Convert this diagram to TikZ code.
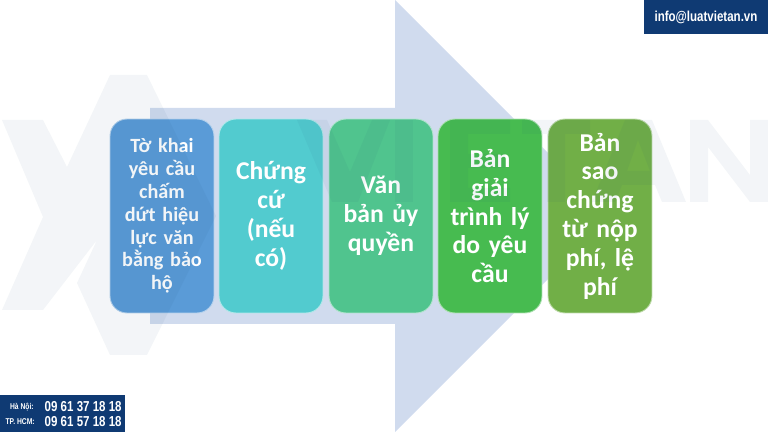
\documentclass[tikz,border=0pt]{standalone}
\usepackage{fontspec}
\setmainfont[WordSpace=0.8]{Carlito}
\newfontfamily\tagfont[FakeStretch=0.8]{Liberation Sans}
\usetikzlibrary{positioning}
\definecolor{navy}{HTML}{0F3A73}
\definecolor{shaft}{HTML}{D0DBEE}
\definecolor{wmark}{HTML}{1F4E79}
\definecolor{boxa}{HTML}{5A9BD7}
\definecolor{boxb}{HTML}{52CBCF}
\definecolor{boxc}{HTML}{50C48E}
\definecolor{boxd}{HTML}{47BB50}
\definecolor{boxe}{HTML}{71AF47}
\tikzset{
  stepbox/.style={rounded corners=0.34cm, draw=white!55!#1, line width=0.5, fill=#1,
    minimum width=2.08cm, minimum height=3.88cm, inner sep=0pt, text width=2.08cm,
    align=center, text=white, font=\bfseries\fontsize{14.6}{16.4}\selectfont},
  smallbox/.style={font=\bfseries\fontsize{11.5}{13}\selectfont},
  tagbox/.style={fill=navy, inner sep=0pt},
  tagtext/.style={text=white, inner sep=0pt, font=\tagfont\bfseries\fontsize{#1}{#1}\selectfont},
  logo/.style={fill=wmark, fill opacity=0.055}
}

\begin{document}
\begin{tikzpicture}[x=0.02cm,y=-0.02cm]
  \useasboundingbox (0, 0) rectangle (768, 432);

  % arrow
  \fill[shaft] (150, 108) -- (395, 108) -- (395, 0) -- (611, 216) -- (395, 432) -- (395, 324) -- (150, 324) -- cycle;

  % boxes
  \node[stepbox=boxa,smallbox] (khai) at (162, 216) {Tờ khai\\yêu cầu\\chấm\\dứt hiệu\\lực văn\\bằng bảo\\hộ};
  \node[stepbox=boxb] (chungcu) at (271, 216) {Chứng\\cứ\\(nếu\\có)};
  \node[stepbox=boxc] (uyquyen) at (381, 216) {Văn\\bản ủy\\quyền};
  \node[stepbox=boxd] (giaitrinh) at (490, 216) {Bản\\giải\\trình lý\\do yêu\\cầu};
  \node[stepbox=boxe] (lephi) at (600, 216) {Bản\\sao\\chứng\\từ nộp\\phí, lệ\\phí};

  % watermark
  \fill[logo] (2, 120) -- (43, 120) -- (67, 167) -- (110, 75) -- (147, 75) -- (216, 216) -- (147, 355) -- (110, 355)
    -- (77, 283) -- (97, 240) -- (43, 310) -- (2, 310) -- (43, 217) -- cycle;
  \fill[logo] (297, 120) -- (327, 120) -- (350, 172) -- (372, 120) -- (390, 120) -- (358, 202) -- (332, 202) -- cycle;
  \fill[logo] (395, 120) rectangle (413, 202);
  \fill[logo] (450, 120) -- (510, 120) -- (510, 134) -- (468, 134) -- (468, 154) -- (505, 154) -- (505, 168) -- (468, 168)
    -- (468, 188) -- (510, 188) -- (510, 202) -- (450, 202) -- cycle;
  \fill[logo] (522, 120) -- (590, 120) -- (590, 134) -- (565, 134) -- (565, 202) -- (547, 202) -- (547, 134) -- (522, 134) -- cycle;
  \fill[logo,even odd rule] (625, 120) -- (652, 120) -- (686, 202) -- (662, 202) -- (655, 185) -- (622, 185) -- (615, 202) -- (592, 202) -- cycle
    (638, 140) -- (627, 171) -- (650, 171) -- cycle;
  \fill[logo] (690, 120) -- (708, 120) -- (750, 175) -- (750, 120) -- (768, 120) -- (768, 202) -- (750, 202) -- (708, 147) -- (708, 202) -- (690, 202) -- cycle;

  % contact tags
  \node[tagbox,minimum width=2.48cm,minimum height=0.68cm] (mail) at (706, 17) {};
  \node[tagtext=8.2] (mailtext) at (mail.center) {info@luatvietan.vn};
  \node[tagbox,minimum width=2.5cm,minimum height=0.74cm] (phone) at (62.5, 413.5) {};
  \node[tagtext=8.2,anchor=east] (hanoinum) at (122, 407) {09 61 37 18 18};
  \node[tagtext=8.2,anchor=east] (hcmnum) at (122, 422) {09 61 57 18 18};
  \node[tagtext=4.8,anchor=east] (hanoi) at (34, 407) {Hà Nội:};
  \node[tagtext=4.8,anchor=east] (hcm) at (35, 422) {TP. HCM:};
\end{tikzpicture}
\end{document}
